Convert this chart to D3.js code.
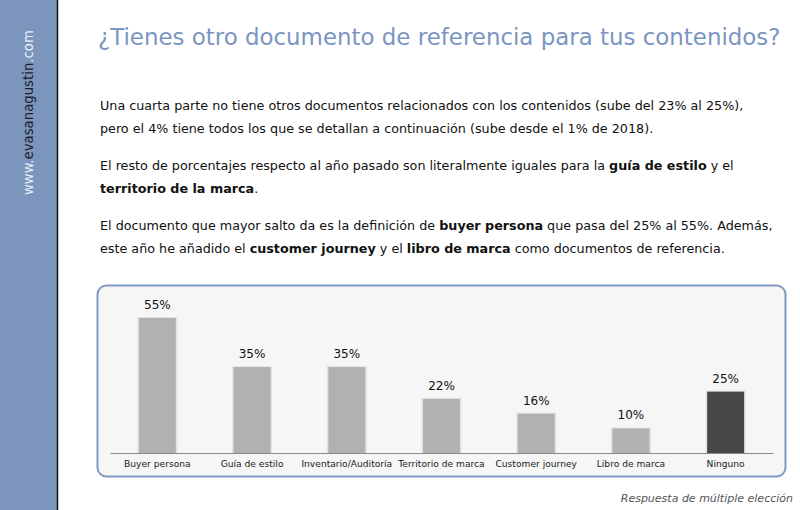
<!DOCTYPE html>
<html>
<head>
<meta charset="utf-8">
<script src="https://cdn.jsdelivr.net/npm/d3@7"></script>
<style>
  body { margin: 0; background: #fff; }
  svg { display: block; font-family: "DejaVu Sans", Verdana, sans-serif; }
</style>
</head>
<body>
<svg width="800" height="510"></svg>
<script>
// chart data
const categories = ["Buyer persona", "Guía de estilo", "Inventario/Auditoría", "Territorio de marca", "Customer journey", "Libro de marca", "Ninguno"];
const values = [55, 35, 35, 22, 16, 10, 25];
const highlighted = ["Ninguno"];

// text blocks (each line is a list of [text, bold])
const paragraphs = [
  [
    [["Una cuarta parte no tiene otros documentos relacionados con los contenidos (sube del 23% al 25%),", false]],
    [["pero el 4% tiene todos los que se detallan a continuación (sube desde el 1% de 2018).", false]]
  ],
  [
    [["El resto de porcentajes respecto al año pasado son literalmente iguales para la ", false], ["guía de estilo", true], [" y el", false]],
    [["territorio de la marca", true], [".", false]]
  ],
  [
    [["El documento que mayor salto da es la definición de ", false], ["buyer persona", true], [" que pasa del 25% al 55%. Además,", false]],
    [["este año he añadido el ", false], ["customer journey", true], [" y el ", false], ["libro de marca", true], [" como documentos de referencia.", false]]
  ]
];
// width of the first (full) line of each paragraph in the picture
const fullWidths = [668, 675, 673];

const svg = d3.select("svg");
const width = +svg.attr("width");
const height = +svg.attr("height");

// shrink/grow font so a text spans the wanted width, returns the size
const fit = (sel, w) => {
  const fs = parseFloat(sel.style("font-size"));
  const len = sel.node().getComputedTextLength();
  const nfs = fs * w / len;
  sel.style("font-size", nfs + "px");
  return nfs;
};

// side bar
svg.append("rect")
  .attr("x", 0).attr("y", 0)
  .attr("width", 57).attr("height", height)
  .attr("fill", "#7b95bd");
svg.append("line")
  .attr("x1", 57.5).attr("x2", 57.5)
  .attr("y1", 0).attr("y2", height)
  .attr("stroke", "#111").attr("stroke-width", 1.5);

const side = svg.append("text")
  .attr("transform", "translate(33, 195) rotate(-90)")
  .style("font-size", "14px");
side.append("tspan").attr("fill", "#e8eef8").text("www.");
side.append("tspan").attr("fill", "#1c2230").text("evasanagustin");
side.append("tspan").attr("fill", "#e8eef8").text(".com");
fit(side, 165);

// title
const title = svg.append("text")
  .attr("x", 98).attr("y", 45)
  .attr("fill", "#7b95c2")
  .style("font-size", "26px")
  .text("¿Tienes otro documento de referencia para tus contenidos?");
fit(title, 683);

// paragraphs
const paraTops = [110, 170, 230];
const lines = [];
paragraphs.forEach((para, i) => {
  para.forEach((line, j) => {
    const t = svg.append("text")
      .attr("x", 100)
      .attr("y", paraTops[i] + j * 23)
      .attr("fill", "#111")
      .style("font-size", "14px");
    line.forEach(([s, b]) => {
      t.append("tspan").attr("font-weight", b ? "bold" : "normal").text(s);
    });
    lines.push({ t, i, j });
  });
});
// one size for all, small enough that no full line runs past its width
const paraSize = d3.min(lines.filter(l => l.j === 0), l => {
  const len = l.t.node().getComputedTextLength();
  return 14 * fullWidths[l.i] / len;
});
lines.forEach(l => l.t.style("font-size", paraSize + "px"));

// chart box
svg.append("rect")
  .attr("x", 97.5).attr("y", 285.5)
  .attr("width", 688).attr("height", 191)
  .attr("rx", 9).attr("ry", 9)
  .attr("fill", "#f6f6f6")
  .attr("stroke", "#7f98c4")
  .attr("stroke-width", 2);

const baseY = 453;
const xScale = d3.scaleBand()
  .domain(categories)
  .range([110, 773])
  .paddingInner(0.61)
  .paddingOuter(0.305);

const yScale = d3.scaleLinear()
  .domain([0, 55])
  .range([baseY, 318]);

const g = svg.append("g");

// bar shadows
g.selectAll("rect.shadow").data(categories)
  .enter().append("rect")
    .attr("class", "shadow")
    .attr("x", d => xScale(d) - 1.5)
    .attr("y", (d, i) => yScale(values[i]) - 1)
    .attr("width", xScale.bandwidth() + 3)
    .attr("height", (d, i) => baseY - yScale(values[i]) + 1)
    .attr("fill", "#e2e2e2");

g.selectAll("rect.bar").data(categories)
  .enter().append("rect")
    .attr("class", "bar")
    .attr("x", d => xScale(d))
    .attr("y", (d, i) => yScale(values[i]))
    .attr("width", xScale.bandwidth())
    .attr("height", (d, i) => baseY - yScale(values[i]))
    .attr("fill", d => highlighted.includes(d) ? "#474747" : "#b1b1b1");

// baseline axis
const xAxisG = g.append("g")
  .attr("transform", `translate(0, ${baseY})`)
  .call(d3.axisBottom(xScale).tickSize(0).tickPadding(8));
xAxisG.select(".domain").attr("stroke", "#8a8a8a");
xAxisG.selectAll("text")
  .attr("fill", "#222")
  .style("font-family", "'DejaVu Sans', Verdana, sans-serif")
  .style("font-size", "10px");
// labels share one size so the longest one is as wide as in the picture
const longest = xAxisG.selectAll("text").filter(d => d === "Inventario/Auditoría");
const labelSize = fit(longest, 91);
xAxisG.selectAll("text").style("font-size", labelSize + "px");

// value labels
g.selectAll("text.value").data(categories)
  .enter().append("text")
    .attr("class", "value")
    .attr("x", d => xScale(d) + xScale.bandwidth() / 2)
    .attr("y", (d, i) => yScale(values[i]) - 9)
    .attr("text-anchor", "middle")
    .attr("fill", "#111")
    .style("font-size", "12px")
    .text((d, i) => values[i] + "%");

// footnote
svg.append("text")
  .attr("x", 793).attr("y", 502)
  .attr("text-anchor", "end")
  .attr("fill", "#555")
  .style("font-size", "11px")
  .style("font-style", "italic")
  .text("Respuesta de múltiple elección");
</script>
</body>
</html>
